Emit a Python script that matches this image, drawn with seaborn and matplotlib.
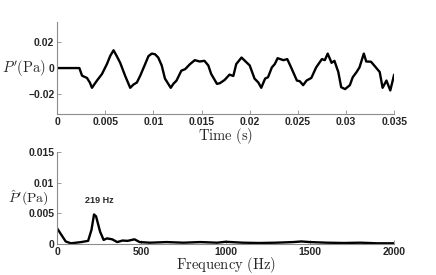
import numpy as np
import pandas as pd
import seaborn as sns
import matplotlib
matplotlib.use("Agg")
import matplotlib.pyplot as plt

# pressure signal (time in ms, P' in Pa)
t_ms = [0, 0.5, 1.0, 1.5, 2.0, 2.31, 2.59, 3.1, 3.4, 3.62, 3.9, 4.14, 4.66, 5.17, 5.52, 5.86,
        6.2, 6.55, 7.07, 7.59, 7.93, 8.28, 8.62, 9.14, 9.48, 9.83, 10.17, 10.5, 10.86,
        11.2, 11.8, 12.07, 12.4, 12.9, 13.3, 13.8, 14.3, 14.8, 15.3, 15.7, 16.0, 16.6,
        16.9, 17.4, 17.9, 18.3, 18.6, 19.15, 19.5, 20.0, 20.5, 20.9, 21.2, 21.6, 21.9,
        22.3, 22.6, 22.9, 23.5, 23.9, 24.3, 24.9, 25.2, 25.55, 25.9, 26.4, 26.9, 27.5,
        27.8, 28.1, 28.5, 28.8, 29.2, 29.5, 29.9, 30.4, 30.7, 31.1, 31.4, 31.85, 32.1,
        32.6, 33.1, 33.5, 33.8, 34.2, 34.6, 35.0]
p_pa = [0, 0, 0, 0, 0, 0, -0.0058, -0.0075, -0.011, -0.015, -0.012, -0.0095, -0.0045, 0.003,
        0.0093, 0.0135, 0.009, 0.004, -0.006, -0.015, -0.0125, -0.011, -0.006, 0.003,
        0.009, 0.011, 0.0105, 0.008, 0.002, -0.008, -0.015, -0.012, -0.0095, -0.002,
        -0.0008, 0.003, 0.006, 0.005, 0.0055, 0.002, -0.0045, -0.012, -0.0115, -0.009,
        -0.005, -0.006, 0.003, 0.008, 0.0055, 0.002, -0.008, -0.011, -0.015, -0.008,
        -0.007, 0.0005, 0.003, 0.0075, 0.006, 0.0068, 0.0005, -0.0095, -0.01, -0.013,
        -0.0095, -0.0075, 0.0005, 0.0068, 0.006, 0.011, 0.004, 0.0055, -0.003, -0.0145,
        -0.016, -0.013, -0.007, -0.003, 0.0005, 0.011, 0.005, 0.0048, 0.0005, -0.003,
        -0.015, -0.0095, -0.017, -0.005]

# spectrum amplitude (Hz, Pa)
freq = [0, 20, 51, 82, 143, 184, 204, 219, 231, 255, 276, 296, 327, 357, 388, 418, 459,
        490, 550, 650, 750, 850, 950, 1000, 1100, 1200, 1300, 1400, 1450, 1500, 1600,
        1700, 1800, 1900, 2000]
amp = [0.00255, 0.0017, 0.0004, 0.0001, 0.0003, 0.0005, 0.0023, 0.0048, 0.0045, 0.002,
       0.00065, 0.0009, 0.00075, 0.0003, 0.00055, 0.0005, 0.00075, 0.0003, 0.0002,
       0.0003, 0.0002, 0.0003, 0.0002, 0.00035, 0.0002, 0.00015, 0.0002, 0.0003, 0.0004,
       0.0003, 0.0002, 0.00015, 0.0002, 0.0001, 0.0001]

df_t = pd.DataFrame({"t": np.array(t_ms) / 1000.0, "p": p_pa})
df_f = pd.DataFrame({"f": freq, "a": amp})

sns.set_style("ticks")
plt.rcParams["font.family"] = ["Liberation Sans", "DejaVu Sans"]
plt.rcParams["mathtext.fontset"] = "cm"

fig = plt.figure(figsize=(4.36, 2.75), dpi=100)
ax1 = fig.add_axes([0.131, 0.585, 0.773, 0.335])
ax2 = fig.add_axes([0.131, 0.113, 0.773, 0.335])

sns.lineplot(data=df_t, x="t", y="p", ax=ax1, color="black", linewidth=1.7)
sns.lineplot(data=df_f, x="f", y="a", ax=ax2, color="black", linewidth=1.7)

ax1.set_xlim(0, 0.035)
ax1.set_ylim(-0.035, 0.035)
ax1.set_xticks([0, 0.005, 0.01, 0.015, 0.02, 0.025, 0.03, 0.035])
ax1.set_xticklabels(["0", "0.005", "0.01", "0.015", "0.02", "0.025", "0.03", "0.035"])
ax1.set_yticks([-0.02, 0, 0.02])
ax1.set_yticklabels(["\u22120.02", "0", "0.02"])
ax1.set_xlabel(r"$\mathrm{Time\ (s)}$", fontsize=10.5, labelpad=-1)
ax1.set_ylabel(r"$P'\mathrm{(Pa)}$", fontsize=10.5, rotation=0, ha="right", va="center")
ax1.yaxis.set_label_coords(-0.033, 0.5)

ax2.set_xlim(0, 2000)
ax2.set_ylim(0, 0.015)
ax2.set_xticks([0, 500, 1000, 1500, 2000])
ax2.set_yticks([0, 0.005, 0.01, 0.015])
ax2.set_yticklabels(["0", "0.005", "0.01", "0.015"])
ax2.set_xlabel(r"$\mathrm{Frequency\ (Hz)}$", fontsize=10.5, labelpad=-1)
ax2.set_ylabel(r"$\hat{P}'\mathrm{(Pa)}$", fontsize=10, rotation=0, ha="right", va="center")
ax2.yaxis.set_label_coords(-0.025, 0.5)
ax2.text(248, 0.0070, "219 Hz", fontsize=6.5, fontweight="bold", ha="center", va="center")

for ax in (ax1, ax2):
    sns.despine(ax=ax)
    for s in ("left", "bottom"):
        ax.spines[s].set_color("#8c8c8c")
        ax.spines[s].set_linewidth(0.8)
    ax.tick_params(direction="in", length=3, width=0.6, color="#8c8c8c", pad=2,
                   labelsize=7.5)
    for lab in ax.get_xticklabels() + ax.get_yticklabels():
        lab.set_fontweight("bold")

fig.savefig("out.png", dpi=100)
